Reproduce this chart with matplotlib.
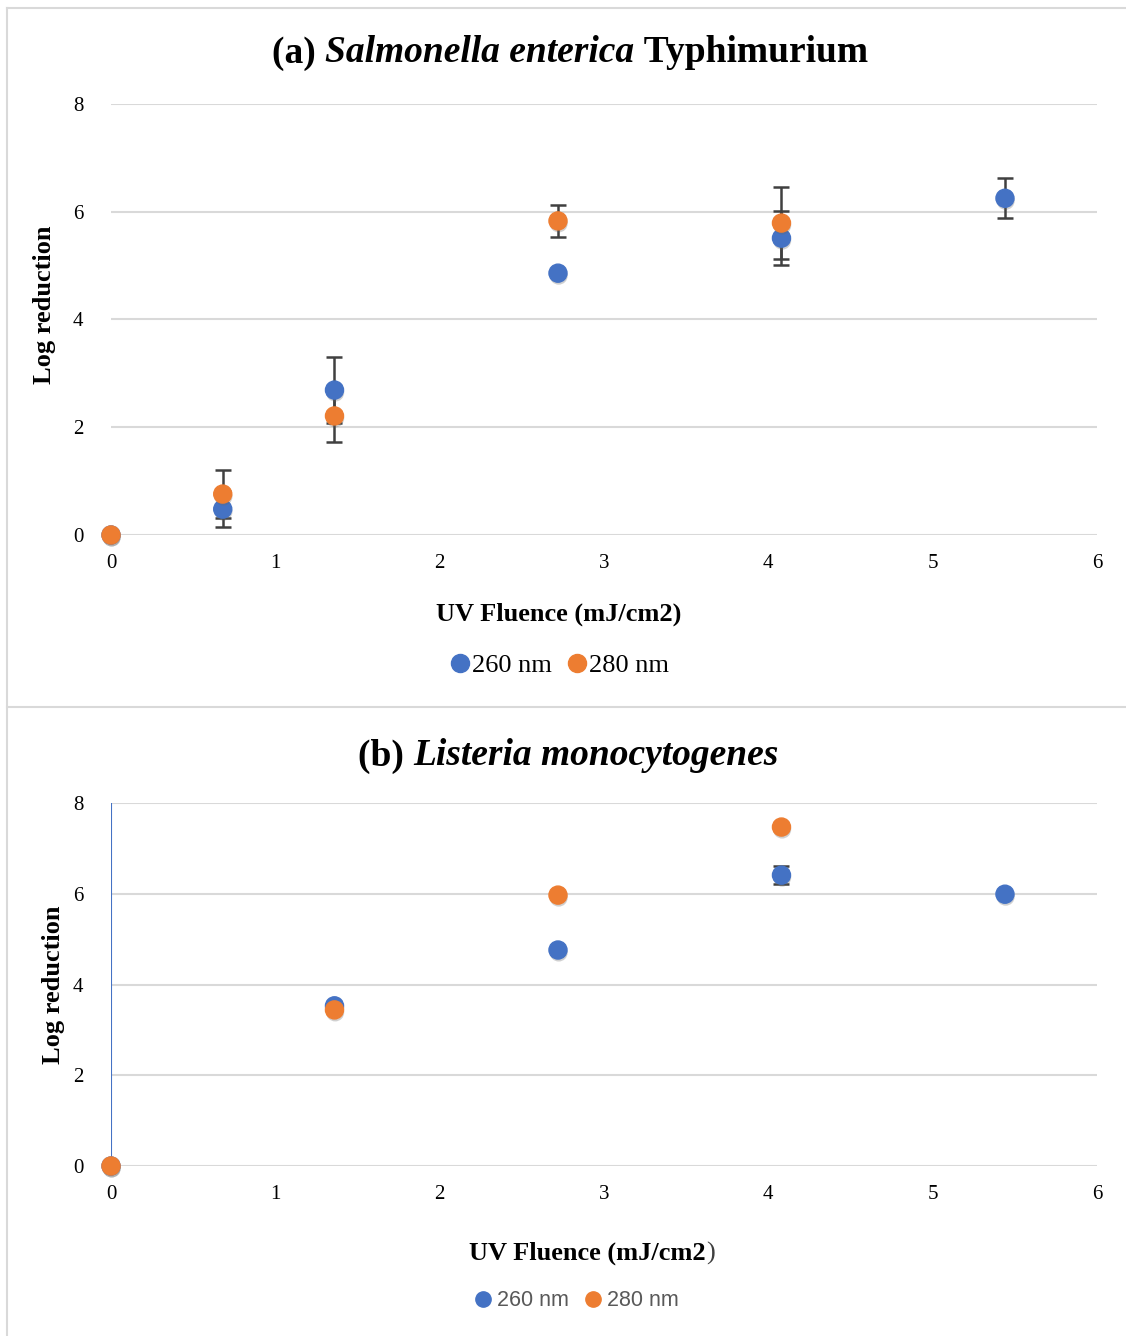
import matplotlib
matplotlib.use("Agg")
import matplotlib.pyplot as plt
import matplotlib.patheffects as pe
from matplotlib.lines import Line2D
from matplotlib.offsetbox import TextArea, HPacker, AnchoredOffsetbox

# ---------------- data ----------------
fluence = [0, 0.68, 1.36, 2.72, 4.08, 5.44]

# (a) Salmonella enterica Typhimurium
a_260 = [0.0, 0.48, 2.69, 4.86, 5.51, 6.25]
a_260_err = [0.0, 0.33, 0.62, 0.0, 0.50, 0.37]
a_280_x = [0, 0.68, 1.36, 2.72, 4.08]
a_280 = [0.0, 0.76, 2.21, 5.83, 5.79]
a_280_err = [0.0, 0.44, 0.48, 0.29, 0.67]

# (b) Listeria monocytogenes
b_260_x = [0, 1.36, 2.72, 4.08, 5.44]
b_260 = [0.0, 3.53, 4.76, 6.41, 5.99]
b_260_err = [0.0, 0.0, 0.0, 0.2, 0.0]
b_280_x = [0, 1.36, 2.72, 4.08]
b_280 = [0.0, 3.44, 5.97, 7.47]

xticks = [0, 1, 2, 3, 4, 5, 6]
yticks = [0, 2, 4, 6, 8]
series_labels = ["260 nm", "280 nm"]

BLUE = "#4472C4"
ORANGE = "#ED7D31"
GRID = "#D9D9D9"
ERR = "#404040"
SERIF = "Liberation Serif"
SANS = "Liberation Sans"

W, H = 1126, 1336
fig = plt.figure(figsize=(W / 100, H / 100), dpi=100)

# panel borders
def hline(y, x0=7, x1=W):
    fig.add_artist(Line2D([x0 / W, x1 / W], [1 - y / H, 1 - y / H], color=GRID, lw=1.5))
def vline(x, y0, y1):
    fig.add_artist(Line2D([x / W, x / W], [1 - y0 / H, 1 - y1 / H], color=GRID, lw=1.5))
hline(8)
hline(707)
vline(7, 8, H)

shadow = [pe.SimplePatchShadow(offset=(0.5, -1.8), shadow_rgbFace="#666666", alpha=0.3), pe.Normal()]

def make_axes(top, bottom):
    ax = fig.add_axes([111 / W, 1 - bottom / H, (1097 - 111) / W, (bottom - top) / H])
    ax.set_xlim(0, 6)
    ax.set_ylim(0, 8)
    ax.set_xticks(xticks)
    ax.set_yticks(yticks)
    ax.set_xticklabels([str(t) for t in xticks], fontfamily=SERIF, fontsize=15)
    ax.set_yticklabels([str(t) for t in yticks], fontfamily=SERIF, fontsize=15)
    ax.tick_params(length=0, pad=14)
    ax.tick_params(axis="y", pad=20)
    for s in ax.spines.values():
        s.set_visible(False)
    ax.grid(axis="y", color=GRID, lw=1.5)
    ax.set_axisbelow(True)
    return ax

MS = 13

def centered_pack(children, cx, cy):
    box = HPacker(children=children, pad=0, sep=0, align="baseline")
    fig.add_artist(AnchoredOffsetbox(loc="center", child=box, frameon=False, pad=0, borderpad=0,
                                     bbox_to_anchor=(cx / W, 1 - cy / H), bbox_transform=fig.transFigure))

TITLE = dict(fontfamily=SERIF, fontsize=27, fontweight="bold")
TITLE_I = dict(TITLE, style="italic")
LABEL = dict(fontfamily=SERIF, fontsize=19, fontweight="bold")

# ---------- panel (a) ----------
axa = make_axes(104, 535)
axa.errorbar(fluence, a_260, yerr=a_260_err, fmt="none", ecolor=ERR, elinewidth=1.8, capsize=6, capthick=1.8, zorder=3)
axa.errorbar(a_280_x, a_280, yerr=a_280_err, fmt="none", ecolor=ERR, elinewidth=1.8, capsize=6, capthick=1.8, zorder=3)
axa.plot(fluence, a_260, "o", color=BLUE, ms=MS, mec=BLUE, zorder=4, clip_on=False, path_effects=shadow)
axa.plot(a_280_x, a_280, "o", color=ORANGE, ms=MS, mec=ORANGE, zorder=5, clip_on=False, path_effects=shadow)
axa.set_ylabel("Log reduction", **LABEL)
axa.yaxis.set_label_coords(-55 / 986, (535 - 305) / 431)
axa.text((559 - 111) / 986, (535 - 614) / 431, "UV Fluence (mJ/cm2)", transform=axa.transAxes,
         ha="center", va="center", **LABEL)

centered_pack([TextArea("(a) ", textprops=TITLE),
               TextArea("Salmonella enterica", textprops=TITLE_I),
               TextArea(" Typhimurium", textprops=TITLE)], 570, 53)

ha = [Line2D([], [], marker="o", ls="none", color=c, ms=13) for c in (BLUE, ORANGE)]
fig.legend(ha, series_labels, loc="center", bbox_to_anchor=(557 / W, 1 - 665 / H), ncol=2, frameon=False,
           prop=dict(family=SERIF, size=19), handletextpad=-0.1, columnspacing=0.4, handlelength=1.1)

# ---------- panel (b) ----------
axb = make_axes(803, 1166)
axb.axvline(0, color=BLUE, lw=1.5, zorder=2)
axb.errorbar(b_260_x, b_260, yerr=b_260_err, fmt="none", ecolor=ERR, elinewidth=1.8, capsize=6, capthick=1.8, zorder=3)
axb.plot(b_260_x, b_260, "o", color=BLUE, ms=MS, mec=BLUE, zorder=4, clip_on=False, path_effects=shadow)
axb.plot(b_280_x, b_280, "o", color=ORANGE, ms=MS, mec=ORANGE, zorder=5, clip_on=False, path_effects=shadow)
axb.set_ylabel("Log reduction", **LABEL)
axb.yaxis.set_label_coords(-46 / 986, (1166 - 985) / 363)

centered_pack([TextArea("UV Fluence (mJ/cm2", textprops=LABEL),
               TextArea(")", textprops=dict(fontfamily=SERIF, fontsize=19, color="#404040"))], 592, 1253)

centered_pack([TextArea("(b) ", textprops=TITLE),
               TextArea("Listeria monocytogenes", textprops=TITLE_I)], 568, 756)

hb = [Line2D([], [], marker="o", ls="none", color=c, ms=11) for c in (BLUE, ORANGE)]
legb = fig.legend(hb, series_labels, loc="center", bbox_to_anchor=(575 / W, 1 - 1301 / H), ncol=2, frameon=False,
                  prop=dict(family=SANS, size=15.5), handletextpad=0.1, columnspacing=0.6, handlelength=1.1)
for t in legb.get_texts():
    t.set_color("#595959")

fig.savefig("out.png", dpi=100)
